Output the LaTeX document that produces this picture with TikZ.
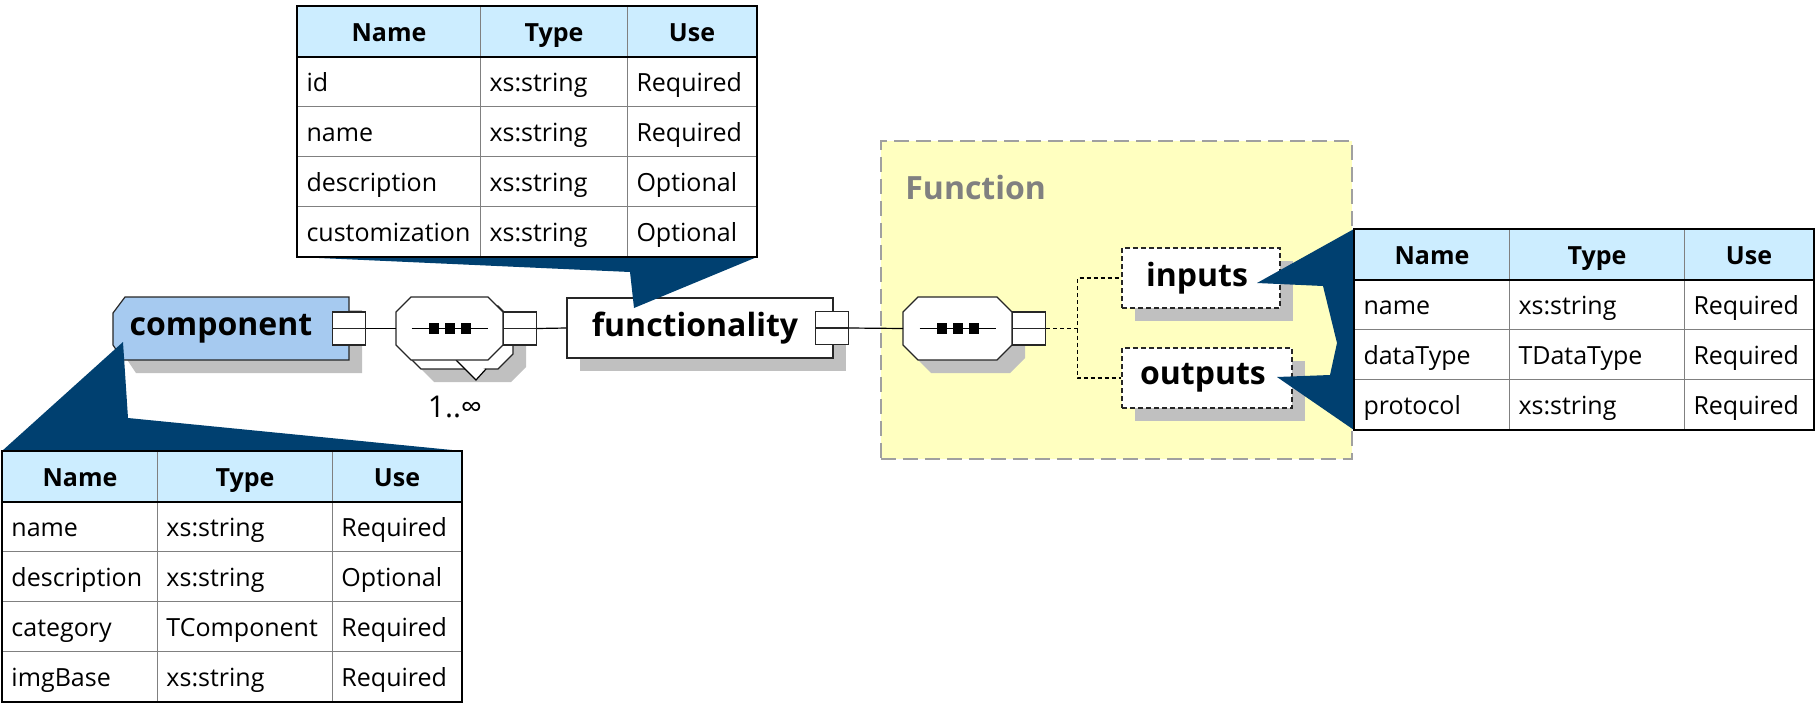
\documentclass[tikz,border=0pt]{standalone}
\usepackage{fontspec}
\setmainfont{Open Sans}
\usetikzlibrary{positioning,matrix,shadows}

\definecolor{calloutblue}{RGB}{0,64,112}
\definecolor{hdrblue}{RGB}{204,237,255}
\definecolor{compblue}{RGB}{166,202,240}
\definecolor{grpyellow}{RGB}{255,255,192}
\definecolor{grpgray}{RGB}{160,160,160}
\definecolor{shadowgray}{RGB}{192,192,192}
\definecolor{gridgray}{RGB}{128,128,128}
\definecolor{labelgray}{RGB}{128,128,128}

\pgfdeclarelayer{grp}
\pgfdeclarelayer{shapes}
\pgfdeclarelayer{front}
\pgfsetlayers{grp,shapes,main,front}

\newcommand\tabfont{\fontsize{12.5}{15}\selectfont}
\newcommand\elfont{\fontsize{16}{19}\selectfont\bfseries}

% octagon round a node, #2 = size of the cut corners
\newcommand\octpath[2]{([xshift=#2]#1.north west) -- ([xshift=-#2]#1.north east)
  -- ([yshift=-#2]#1.north east) -- ([yshift=#2]#1.south east)
  -- ([xshift=-#2]#1.south east) -- ([xshift=#2]#1.south west)
  -- ([yshift=#2]#1.south west) -- ([yshift=-#2]#1.north west) -- cycle}

% sequence symbol inside a compositor
\newcommand\seqmark[1]{%
  \draw[wire] ([xshift=-19pt]#1.center) -- ([xshift=19pt]#1.center);
  \foreach \dx in {-8,0,8}
    \fill ([xshift=\dx*1pt-2.5pt, yshift=-2.75pt]#1.center) rectangle +(10,-11);
}

\tikzset{
  wire/.style={line width=0.6pt},
  optwire/.style={wire, dash pattern=on 2pt off 1.5pt},
  outline/.style={draw=black!85, line width=0.6pt},
  shade box/.style={drop shadow={shadow xshift=6.5pt, shadow yshift=-6.5pt, fill=shadowgray, opacity=1}},
  element/.style={outline, fill=white, font=\elfont, inner sep=0pt},
  octbox/.style={font=\elfont, inner sep=0pt, outer sep=0pt},
  compositor/.style={octbox, minimum width=53.5pt, minimum height=31.5pt},
  expander/.style={outline, fill=white, minimum size=16.5pt, inner sep=0pt,
    path picture={\draw[wire] (path picture bounding box.west) -- (path picture bounding box.east);}},
  callout/.style={fill=calloutblue},
  attrtable/.style={matrix of nodes, anchor=north west, inner sep=0pt, outer sep=0pt,
    column sep=-0.5pt, row sep=-0.5pt,
    nodes={draw=gridgray, line width=0.5pt, outer sep=0pt, inner xsep=4.5pt, inner ysep=0pt,
      minimum height=25pt, text height=11pt, text depth=1pt, font=\tabfont, align=left},
    row 1/.style={nodes={fill=hdrblue, font=\tabfont\bfseries, align=center}}},
  wide cols/.style={column 1/.style={nodes={text width=82.5pt}},
    column 2/.style={nodes={text width=64.5pt}},
    column 3/.style={nodes={text width=55.5pt}}},
  narrow cols/.style={column 1/.style={nodes={text width=68.5pt}},
    column 2/.style={nodes={text width=78.5pt}},
    column 3/.style={nodes={text width=55.5pt}}},
}

\begin{document}
\begin{tikzpicture}[x=0.5pt, y=-0.5pt]
\useasboundingbox (0,0) rectangle (1816,712);

% group Function
\begin{pgfonlayer}{grp}
\node (grp) [fill=grpyellow, draw=grpgray, line width=0.75pt, dash pattern=on 7.5pt off 3.5pt,
  minimum width=235.5pt, minimum height=159pt, anchor=north west] at (880,140) {};
\end{pgfonlayer}
\node (grplabel) [font=\elfont, text=labelgray, anchor=base west, inner sep=0pt] at (905,199) {Function};

% elements
\node (comp) [octbox, minimum width=118pt, minimum height=31.5pt] at (231,328.5) {component\kern10pt};
\node (compx) [expander] at (comp.east) {};

\node (seqaback) [compositor] at (459.5,337.5) {};
\node (seqa) [compositor] at (449.5,328.5) {};
\seqmark{seqa}
\node (seqax) [expander, anchor=west] at (seqa.east) {};
\node (mult) [font=\fontsize{15}{18}\selectfont, anchor=base, inner sep=0pt] at (455,417) {1..∞};

\node (func) [element, shade box, minimum width=133pt, minimum height=30pt] at (700,328)
  {functionality\kern5pt};
\node (funcx) [expander] at ([xshift=-1pt]func.east) {};

\node (seqb) [compositor, minimum width=54.5pt] at (957.5,328.5) {};
\seqmark{seqb}
\node (seqbx) [expander, anchor=west] at (seqb.east) {};

\node (inputs) [element, shade box, dash pattern=on 2.5pt off 1.5pt, minimum width=79pt,
  minimum height=30pt] at (1201,278) {inputs\kern4pt};
\node (outputs) [element, shade box, dash pattern=on 2.5pt off 1.5pt, minimum width=85pt,
  minimum height=30pt] at (1207,378) {outputs\kern4pt};

% octagon outlines under the nodes
\begin{pgfonlayer}{shapes}
\path[outline, shade box, fill=compblue] ([xshift=6pt]comp.north west) -- (comp.north east)
  -- (comp.south east) -- ([xshift=5pt]comp.south west) -- ([yshift=7.5pt]comp.south west)
  -- ([yshift=-8pt]comp.north west) -- cycle;
\path[outline, shade box, fill=white] \octpath{seqaback}{7.5pt};
\draw[wire, fill=white] (456,360) -- (476,380) -- (486,369);
\path[outline, fill=white] \octpath{seqa}{7.5pt};
\path[outline, shade box, fill=white] \octpath{seqb}{7.5pt};
\end{pgfonlayer}

% connectors
\draw[wire] (compx.east) -- (seqa.west);
\draw[wire] (seqax.east) -- (func.west);
\draw[wire] (funcx.east) -- (seqb.west);
\draw[optwire] (seqbx.east) -- ++(31,0) coordinate (fork) |- (inputs.west);
\draw[optwire] (fork) |- (outputs.west);

% attribute tables
\begin{pgfonlayer}{front}
\matrix (functab) [attrtable, wide cols] at (297,6) {
  Name & Type & Use \\
  id & xs:string & Required \\
  name & xs:string & Required \\
  description & xs:string & Optional \\
  customization & xs:string & Optional \\
};
\matrix (comptab) [attrtable, narrow cols] at (2,451) {
  Name & Type & Use \\
  name & xs:string & Required \\
  description & xs:string & Optional \\
  category & TComponent & Required \\
  imgBase & xs:string & Required \\
};
\matrix (iotab) [attrtable, narrow cols] at (1354,229) {
  Name & Type & Use \\
  name & xs:string & Required \\
  dataType & TDataType & Required \\
  protocol & xs:string & Required \\
};
\foreach \t in {functab,comptab,iotab} {
  \draw[line width=1pt] (\t.north west) rectangle (\t.south east);
  \draw[line width=1pt] (\t-1-1.south west) -- (\t-1-3.south east);
}
\end{pgfonlayer}

% callouts
\coordinate (functip) at (634,308);
\coordinate (funcknee) at (630,272);
\coordinate (comptip) at (123,342);
\coordinate (compknee) at (128,418);
\coordinate (intip) at (1257,283);
\coordinate (outtip) at (1277,377);
\coordinate (iokneea) at (1323,286);
\coordinate (iokneeb) at (1337,343);
\coordinate (iokneec) at (1330,375);
\fill[callout] (functab.south west) -- (functab.south east) -- (functip) -- (funcknee) -- cycle;
\fill[callout] (comptab.north west) -- (comptip) -- (compknee) -- (comptab.north east) -- cycle;
\fill[callout] (iotab.north west) -- (intip) -- (iokneea) -- (iokneeb) -- (iokneec)
  -- (outtip) -- (iotab.south west) -- cycle;
\end{tikzpicture}
\end{document}
